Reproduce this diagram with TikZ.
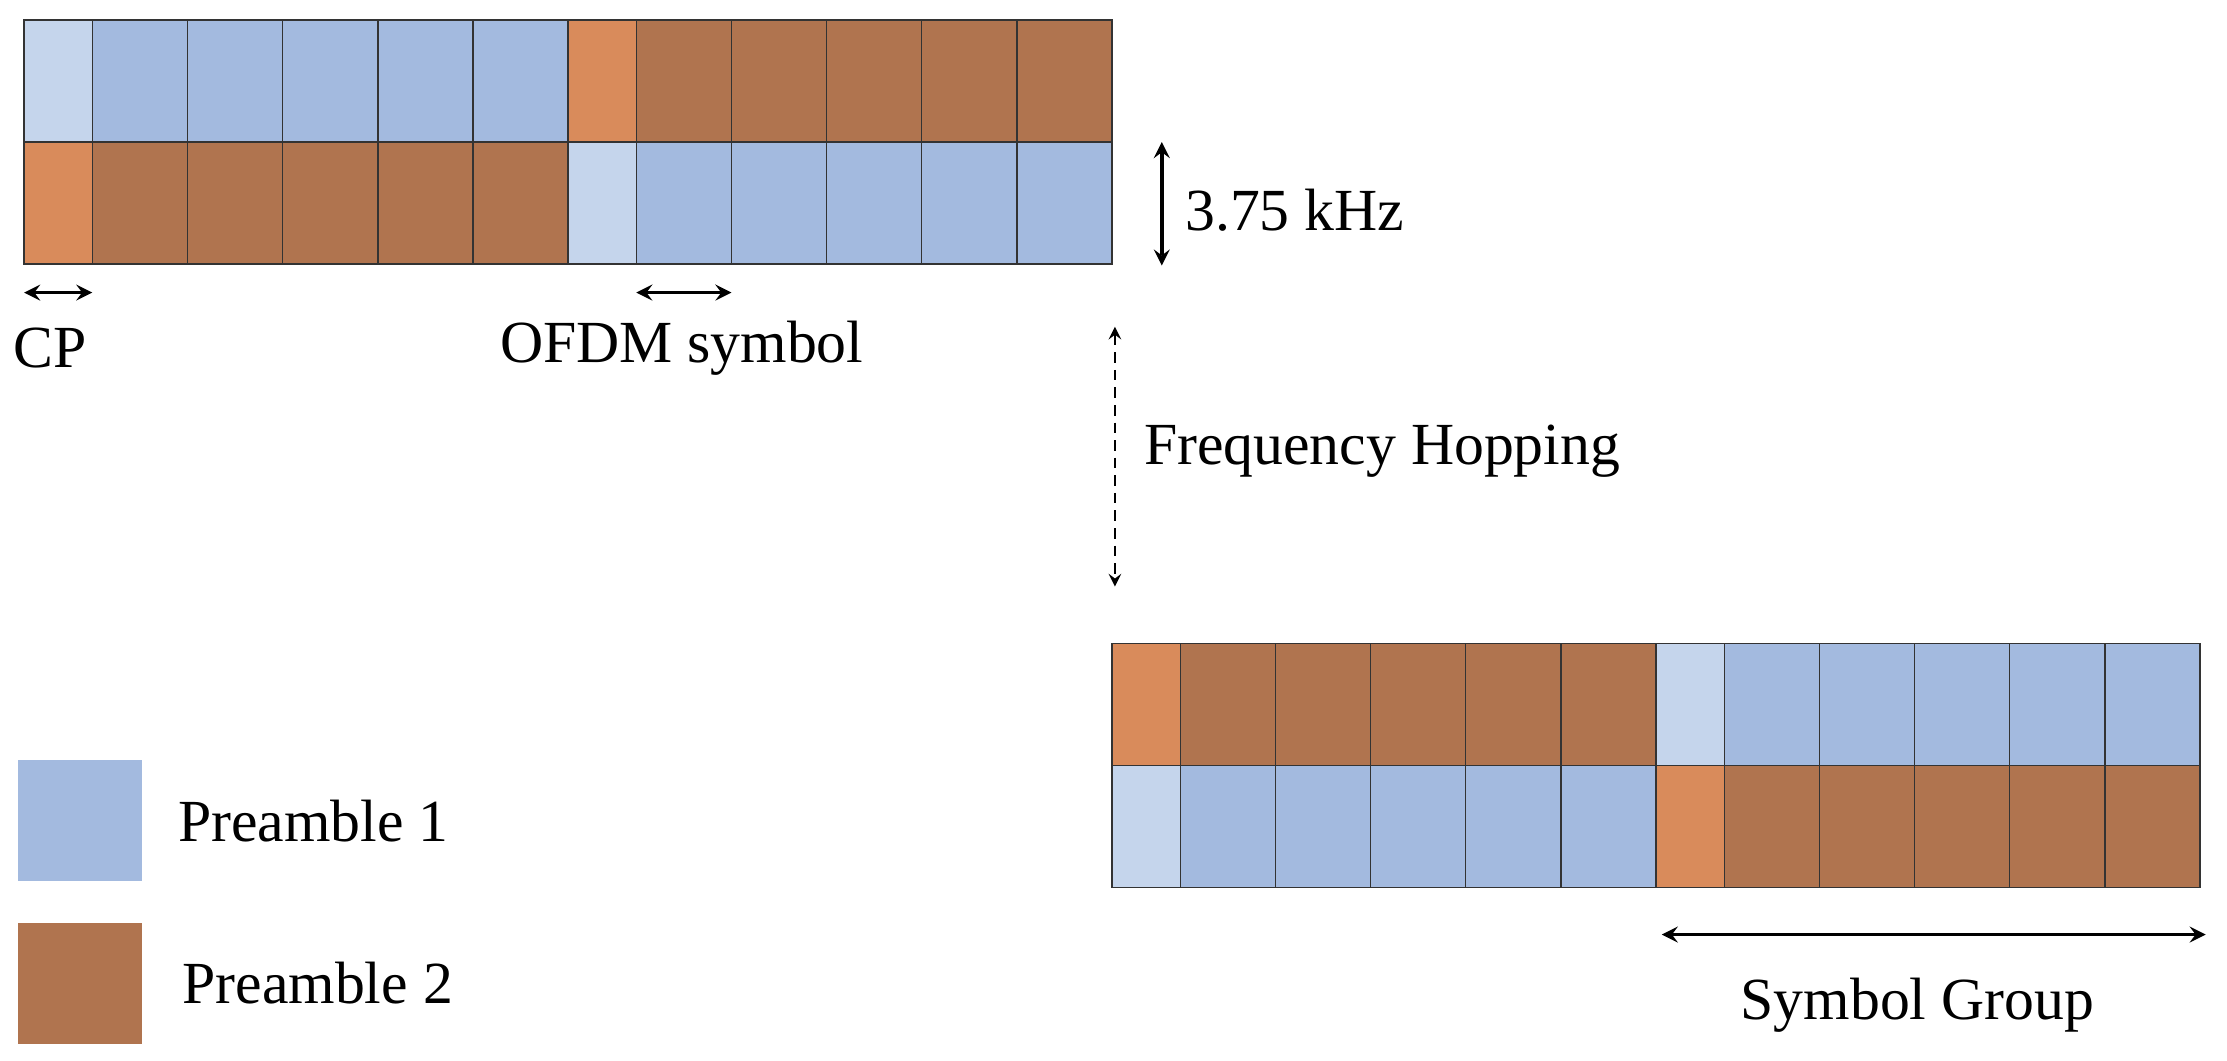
\documentclass[tikz,border=0pt]{standalone}
\usepackage{fontspec}
\setmainfont{Liberation Serif}
\definecolor{cpone}{HTML}{C5D5EC}
\definecolor{pone}{HTML}{A3BADF}
\definecolor{cptwo}{HTML}{D98B5B}
\definecolor{ptwo}{HTML}{B0744F}
\tikzset{cell/.style={draw=black!80,line width=0.4pt},
  lbl/.style={font=\fontsize{17}{20}\selectfont,inner sep=0pt},
  dim/.style={<->,>=stealth,line width=1pt}}
% one half of a symbol group: CP plus five symbols
\newcommand{\half}[4]{%
  \fill[#3,cell] (#1,#2) rectangle ++(48,86);
  \foreach \k in {0,...,4}
    \fill[#4,cell] ({#1+48+67*\k},#2) rectangle ++(67,86);}
\begin{document}
\begin{tikzpicture}[x=0.0142cm,y=-0.0142cm]
\useasboundingbox (0,0) rectangle (1568,747);
% upper group
\half{17}{14}{cpone}{pone}
\half{400}{14}{cptwo}{ptwo}
\half{17}{100}{cptwo}{ptwo}
\half{400}{100}{cpone}{pone}
% lower group
\half{783}{453}{cptwo}{ptwo}
\half{1166}{453}{cpone}{pone}
\half{783}{539}{cpone}{pone}
\half{1166}{539}{cptwo}{ptwo}
% dimensions
\coordinate (cpL) at (17,206); \coordinate (cpR) at (65,206);
\draw[dim] (cpL) -- (cpR);
\node[lbl] (cp) at (35,245) {CP};
\coordinate (symL) at (448,206); \coordinate (symR) at (515,206);
\draw[dim] (symL) -- (symR);
\node[lbl] (ofdm) at (480,245) {OFDM symbol};
\coordinate (bwT) at (818,100); \coordinate (bwB) at (818,187);
\draw[dim] (bwT) -- (bwB);
\node[lbl,anchor=west] (bw) at (834,148) {3.75 kHz};
\coordinate (hopT) at (785,230); \coordinate (hopB) at (785,413);
\draw[<->,>=stealth,densely dashed,line width=0.6pt] (hopT) -- (hopB);
\node[lbl,anchor=west] (hop) at (805,318) {Frequency Hopping};
\coordinate (sgL) at (1170,658); \coordinate (sgR) at (1553,658);
\draw[dim] (sgL) -- (sgR);
\node[lbl] (sg) at (1350,708) {Symbol Group};
% legend
\fill[pone] (13,535) rectangle (100,620);
\node[lbl,anchor=west] (leg1) at (125,578) {Preamble 1};
\fill[ptwo] (13,650) rectangle (100,735);
\node[lbl,anchor=west] (leg2) at (128,692) {Preamble 2};
\end{tikzpicture}
\end{document}
